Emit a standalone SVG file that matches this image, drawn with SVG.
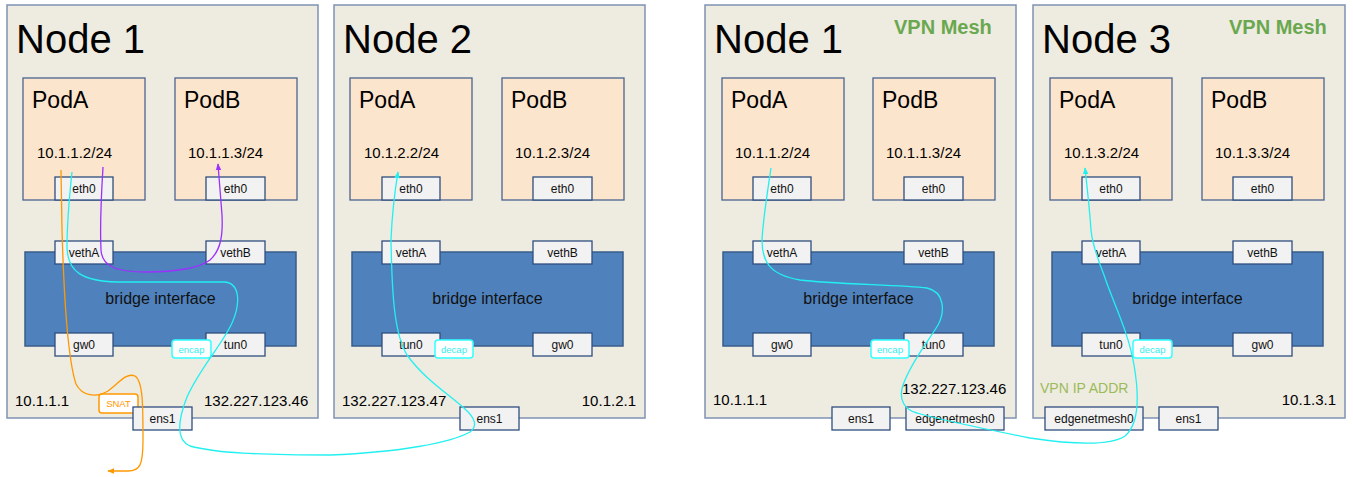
<svg xmlns="http://www.w3.org/2000/svg" width="1353" height="477" viewBox="0 0 1353 477">
<style>
.node{fill:#eeebe1;stroke:#7f93b3;stroke-width:1.5}
.pod{fill:#fce5cd;stroke:#4a6490;stroke-width:1.3}
.ifc{fill:#f2f2f2;stroke:#2f4d7e;stroke-width:1.3}
.br{fill:#4f81bd;stroke:#385d8a;stroke-width:1.5}
.t{font-family:"Liberation Sans",Arial,sans-serif;fill:#000}
.title{font-size:40px}
.podt{font-size:23px}
.ip{font-size:15px}
.it{font-size:12px;text-anchor:middle;fill:#111}
.brt{font-size:16px;text-anchor:middle;fill:#111}
.vpn{font-size:20px;font-weight:bold;fill:#6aa84f}
.vip{font-size:14px;fill:#9bbb59}
.lab{fill:#fff;stroke:#33ffff;stroke-width:1.5}
.labt{font-family:"Liberation Sans",Arial,sans-serif;font-size:9.5px;fill:#33eeee;text-anchor:middle}
.snat{fill:#fff;stroke:#ff9900;stroke-width:1.5}
.snatt{font-family:"Liberation Sans",Arial,sans-serif;font-size:9.5px;fill:#ff9900;text-anchor:middle}
.c{fill:none;stroke-width:1.3}
.cy{stroke:#22f0f0}
.pu{stroke:#9b30ff}
.or{stroke:#ff9900}
</style>
<defs>
<marker id="acy" viewBox="0 0 10 10" refX="9" refY="5" markerWidth="7" markerHeight="7" markerUnits="userSpaceOnUse" orient="auto"><path d="M0,1 L10,5 L0,9 Z" fill="#22f0f0"/></marker>
<marker id="apu" viewBox="0 0 10 10" refX="9" refY="5" markerWidth="7" markerHeight="7" markerUnits="userSpaceOnUse" orient="auto"><path d="M0,1 L10,5 L0,9 Z" fill="#9b30ff"/></marker>
<marker id="aor" viewBox="0 0 10 10" refX="9" refY="5" markerWidth="7" markerHeight="7" markerUnits="userSpaceOnUse" orient="auto"><path d="M0,1 L10,5 L0,9 Z" fill="#ff9900"/></marker>
</defs>

<g id="node1-left">
<rect class="node" x="7" y="5" width="311" height="413"/>
<text class="t title" x="16" y="53">Node 1</text>
<rect class="pod" x="23" y="78" width="122" height="122"/>
<text class="t podt" x="32" y="108">PodA</text>
<text class="t ip" x="37" y="158">10.1.1.2/24</text>
<rect class="ifc" x="55" y="177" width="58" height="23"/><text class="t it" x="84" y="193">eth0</text>
<rect class="pod" x="175" y="78" width="122" height="122"/>
<text class="t podt" x="184" y="108">PodB</text>
<text class="t ip" x="188" y="158">10.1.1.3/24</text>
<rect class="ifc" x="206" y="177" width="59" height="23"/><text class="t it" x="235.5" y="193">eth0</text>
<rect class="br" x="25" y="252" width="271" height="94"/>
<text class="t brt" x="160.5" y="304">bridge interface</text>
<rect class="ifc" x="55" y="241" width="58" height="23"/><text class="t it" x="84" y="257">vethA</text>
<rect class="ifc" x="206" y="241" width="59" height="23"/><text class="t it" x="235.5" y="257">vethB</text>
<rect class="ifc" x="55" y="333" width="58" height="23"/><text class="t it" x="84" y="349">gw0</text>
<rect class="ifc" x="206" y="333" width="59" height="23"/><text class="t it" x="235.5" y="349">tun0</text>
<rect class="lab" x="172" y="340" width="39" height="18" rx="3"/><text class="labt" x="191.5" y="353">encap</text>
<text class="t ip" x="15" y="406">10.1.1.1</text>
<text class="t ip" x="204" y="406">132.227.123.46</text>
<rect class="snat" x="99" y="394" width="39" height="19" rx="3"/><text class="snatt" x="118.5" y="407">SNAT</text>
<rect class="ifc" x="133" y="407" width="59" height="23"/><text class="t it" x="162.5" y="423">ens1</text>
</g>

<g id="node2" transform="translate(327,0)">
<rect class="node" x="7" y="5" width="311" height="413"/>
<text class="t title" x="16" y="53">Node 2</text>
<rect class="pod" x="23" y="78" width="122" height="122"/>
<text class="t podt" x="32" y="108">PodA</text>
<text class="t ip" x="37" y="158">10.1.2.2/24</text>
<rect class="ifc" x="55" y="177" width="58" height="23"/><text class="t it" x="84" y="193">eth0</text>
<rect class="pod" x="175" y="78" width="122" height="122"/>
<text class="t podt" x="184" y="108">PodB</text>
<text class="t ip" x="188" y="158">10.1.2.3/24</text>
<rect class="ifc" x="206" y="177" width="59" height="23"/><text class="t it" x="235.5" y="193">eth0</text>
<rect class="br" x="25" y="252" width="271" height="94"/>
<text class="t brt" x="160.5" y="304">bridge interface</text>
<rect class="ifc" x="55" y="241" width="58" height="23"/><text class="t it" x="84" y="257">vethA</text>
<rect class="ifc" x="206" y="241" width="59" height="23"/><text class="t it" x="235.5" y="257">vethB</text>
<rect class="ifc" x="55" y="333" width="58" height="23"/><text class="t it" x="84" y="349">tun0</text>
<rect class="ifc" x="206" y="333" width="59" height="23"/><text class="t it" x="235.5" y="349">gw0</text>
<rect class="lab" x="108" y="340" width="38" height="18" rx="3"/><text class="labt" x="127" y="353">decap</text>
<text class="t ip" x="15" y="406">132.227.123.47</text>
<text class="t ip" x="309" y="406" text-anchor="end">10.1.2.1</text>
<rect class="ifc" x="133" y="407" width="59" height="23"/><text class="t it" x="162.5" y="423">ens1</text>
</g>

<g id="node1-vpn" transform="translate(698,0)">
<rect class="node" x="7" y="5" width="311" height="413"/>
<text class="t title" x="16" y="53">Node 1</text>
<text class="t vpn" x="196" y="34">VPN Mesh</text>
<rect class="pod" x="24" y="78" width="122" height="122"/>
<text class="t podt" x="33" y="108">PodA</text>
<text class="t ip" x="37" y="158">10.1.1.2/24</text>
<rect class="ifc" x="55" y="177" width="58" height="23"/><text class="t it" x="84" y="193">eth0</text>
<rect class="pod" x="175" y="78" width="122" height="122"/>
<text class="t podt" x="184" y="108">PodB</text>
<text class="t ip" x="188" y="158">10.1.1.3/24</text>
<rect class="ifc" x="206" y="177" width="59" height="23"/><text class="t it" x="235.5" y="193">eth0</text>
<rect class="br" x="25" y="252" width="271" height="94"/>
<text class="t brt" x="160.5" y="304">bridge interface</text>
<rect class="ifc" x="55" y="241" width="58" height="23"/><text class="t it" x="84" y="257">vethA</text>
<rect class="ifc" x="206" y="241" width="59" height="23"/><text class="t it" x="235.5" y="257">vethB</text>
<rect class="ifc" x="55" y="333" width="58" height="23"/><text class="t it" x="84" y="349">gw0</text>
<rect class="ifc" x="206" y="333" width="59" height="23"/><text class="t it" x="235.5" y="349">tun0</text>
<rect class="lab" x="173" y="340" width="38" height="18" rx="3"/><text class="labt" x="192" y="353">encap</text>
<text class="t ip" x="15" y="405">10.1.1.1</text>
<text class="t ip" x="204" y="394">132.227.123.46</text>
<rect class="ifc" x="134" y="407" width="58" height="23"/><text class="t it" x="163" y="423">ens1</text>
<rect class="ifc" x="208" y="407" width="98" height="23"/><text class="t it" x="257" y="423">edgenetmesh0</text>
</g>

<g id="node3" transform="translate(1027,0)">
<rect class="node" x="6" y="5" width="312" height="413"/>
<text class="t title" x="15" y="53">Node 3</text>
<text class="t vpn" x="202" y="34">VPN Mesh</text>
<rect class="pod" x="23" y="78" width="122" height="122"/>
<text class="t podt" x="32" y="108">PodA</text>
<text class="t ip" x="37" y="158">10.1.3.2/24</text>
<rect class="ifc" x="55" y="177" width="58" height="23"/><text class="t it" x="84" y="193">eth0</text>
<rect class="pod" x="175" y="78" width="122" height="122"/>
<text class="t podt" x="184" y="108">PodB</text>
<text class="t ip" x="188" y="158">10.1.3.3/24</text>
<rect class="ifc" x="206" y="177" width="59" height="23"/><text class="t it" x="235.5" y="193">eth0</text>
<rect class="br" x="25" y="252" width="271" height="94"/>
<text class="t brt" x="160.5" y="304">bridge interface</text>
<rect class="ifc" x="55" y="241" width="58" height="23"/><text class="t it" x="84" y="257">vethA</text>
<rect class="ifc" x="206" y="241" width="59" height="23"/><text class="t it" x="235.5" y="257">vethB</text>
<rect class="ifc" x="55" y="333" width="58" height="23"/><text class="t it" x="84" y="349">tun0</text>
<rect class="ifc" x="206" y="333" width="59" height="23"/><text class="t it" x="235.5" y="349">gw0</text>
<rect class="lab" x="106" y="340" width="39" height="18" rx="3"/><text class="labt" x="125.5" y="353">decap</text>
<text class="t vip" x="13" y="393">VPN IP ADDR</text>
<text class="t ip" x="309" y="405" text-anchor="end">10.1.3.1</text>
<rect class="ifc" x="18" y="407" width="98" height="23"/><text class="t it" x="67" y="423">edgenetmesh0</text>
<rect class="ifc" x="132" y="407" width="59" height="23"/><text class="t it" x="161.5" y="423">ens1</text>
</g>

<g id="connectors">
<path class="c or" marker-end="url(#aor)" d="M61,170 L62,230 C64,300 68,360 76,384 C82,396 96,398 108,391 C118,384 126,372 135,376 C143,381 143,405 143,440 C143,465 140,471 128,471 L108,471"/>
<path class="c pu" marker-end="url(#apu)" d="M103,167 C101,200 100,230 101,250 C102,266 115,272 147,272 C175,272 200,268 210,260 C221,250 223,235 222,215 L218,164"/>
<path class="c cy" marker-end="url(#acy)" d="M72,172 C69,200 67,225 67,248 C68,272 82,281 117,282 L225,282 C241,284 240,305 232,323 C222,345 200,368 187,397 C178,420 176,440 190,446 C215,453 260,455 330,455 C400,452 450,443 470,432 C478,426 475,418 465,409 C450,395 425,380 407,355 C395,335 392,300 391,240 C392,215 395,190 398,172"/>
<path class="c cy" marker-end="url(#acy)" d="M771,168 C767,195 763,220 762,240 C762,262 770,275 800,280 C830,284 900,285 927,288 C945,292 945,312 938,325 C928,342 912,360 903,385 C898,400 905,410 917,413 C940,420 990,430 1030,438 C1070,444 1110,446 1125,436 C1138,425 1140,400 1134,365 C1128,330 1112,300 1104,275 C1096,255 1092,240 1091,230 C1090,215 1088,195 1085,168"/>
</g>
</svg>
